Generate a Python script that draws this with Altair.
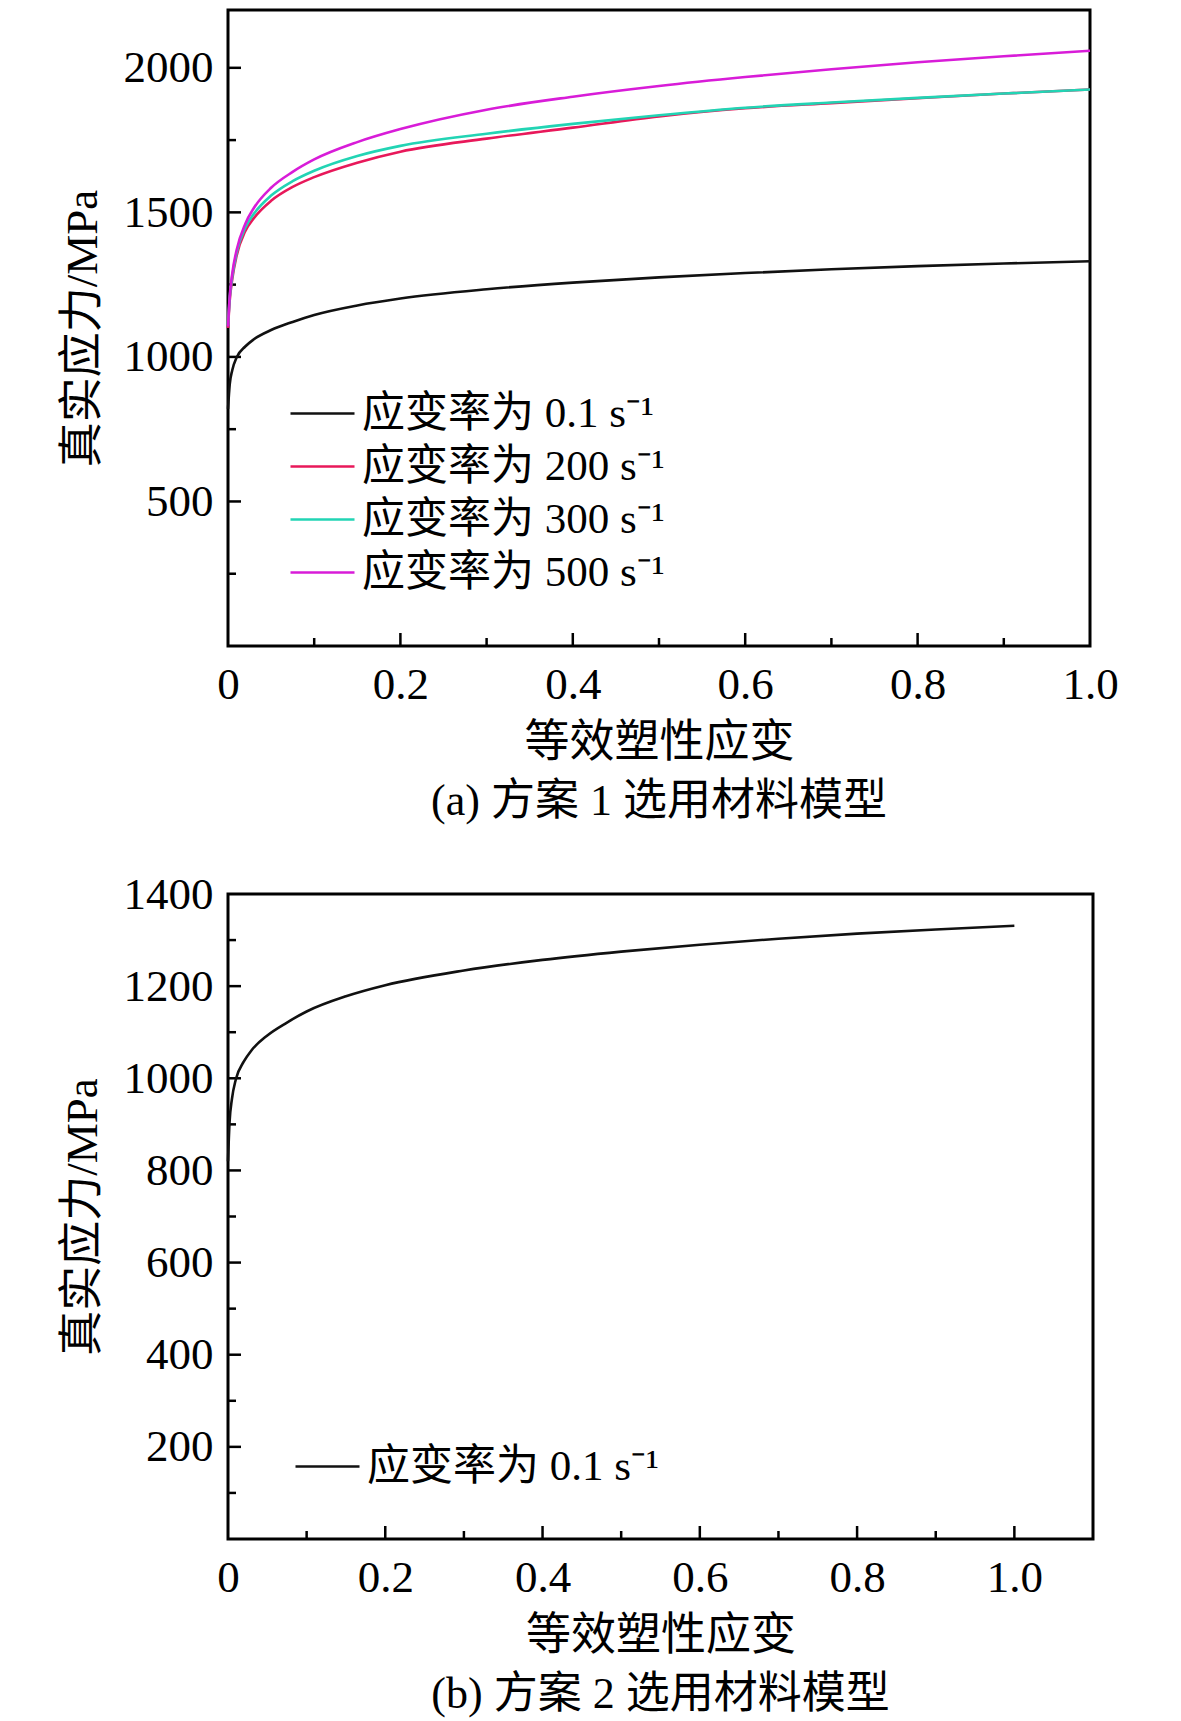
import altair as alt
import pandas as pd

# ---------------- data ----------------
strain = [0, 0.002, 0.005, 0.01, 0.02, 0.03, 0.05, 0.075, 0.1, 0.15, 0.2,
          0.3, 0.4, 0.5, 0.6, 0.7, 0.8, 0.9, 1.0]
stress_01 = [820, 905, 955, 998, 1036, 1061, 1093, 1121, 1145, 1178, 1202,
             1234, 1257, 1275, 1290, 1303, 1314, 1323, 1331]
stress_200 = [1100, 1195, 1270, 1350, 1435, 1480, 1540, 1588, 1622, 1672, 1710,
              1755, 1793, 1832, 1860, 1878, 1895, 1911, 1925]
stress_300 = [1110, 1205, 1280, 1360, 1447, 1495, 1558, 1608, 1644, 1695, 1730,
              1772, 1806, 1836, 1862, 1880, 1896, 1911, 1925]
stress_500 = [1105, 1210, 1290, 1370, 1460, 1515, 1585, 1640, 1683, 1743, 1788,
              1855, 1900, 1937, 1968, 1995, 2019, 2040, 2059]

series_names = ["应变率为 0.1 s⁻¹", "应变率为 200 s⁻¹", "应变率为 300 s⁻¹", "应变率为 500 s⁻¹"]
series_colors = ["#111111", "#e8185a", "#22d4b4", "#d81cd8"]

# axis ticks / labels
a_x_labels = [0, 0.2, 0.4, 0.6, 0.8, 1.0]
a_x_major = [0.2, 0.4, 0.6, 0.8]
a_x_minor = [0.1, 0.3, 0.5, 0.7, 0.9]
a_y_labels = [500, 1000, 1500, 2000]
a_y_major = [500, 1000, 1500, 2000]
a_y_minor = [250, 750, 1250, 1750]

b_x_labels = [0, 0.2, 0.4, 0.6, 0.8, 1.0]
b_x_major = [0.2, 0.4, 0.6, 0.8, 1.0]
b_x_minor = [0.1, 0.3, 0.5, 0.7, 0.9]
b_y_labels = [200, 400, 600, 800, 1000, 1200, 1400]
b_y_major = [200, 400, 600, 800, 1000, 1200]
b_y_minor = [100, 300, 500, 700, 900, 1100, 1300]

FONT = "Liberation Serif, Times New Roman, Noto Sans CJK SC, serif"
X_TITLE = "等效塑性应变"
Y_TITLE = "真实应力/MPa"


def panel(series_list, names, colors, xdom, ydom, xlab, ylab, xmaj, xmin, ymaj, ymin,
          w, h, caption, leg_x, leg_y):
    rows = []
    for vals, nm in zip(series_list, names):
        for s, v in zip(strain, vals):
            rows.append({"strain": s, "stress": v, "series": nm})
    df = pd.DataFrame(rows)

    xs = alt.Scale(domain=xdom, nice=False, zero=False)
    ys = alt.Scale(domain=ydom, nice=False, zero=False)

    lines = alt.Chart(df).mark_line(strokeWidth=2.6, interpolate="monotone").encode(
        x=alt.X("strain:Q", scale=xs, title=X_TITLE,
                axis=alt.Axis(values=xlab, ticks=False, tickSize=0, domain=False, grid=False,
                              labelExpr="datum.value == 0 ? '0' : format(datum.value, '.1f')",
                              labelPadding=16, titlePadding=13, labelFlush=False)),
        y=alt.Y("stress:Q", scale=ys, title=Y_TITLE,
                axis=alt.Axis(values=ylab, ticks=False, tickSize=0, domain=False, grid=False,
                              labelPadding=15, titlePadding=18, format="d")),
        color=alt.Color("series:N",
                        scale=alt.Scale(domain=names, range=colors),
                        legend=alt.Legend(orient="none", legendX=leg_x, legendY=leg_y,
                                          title=None, symbolType="stroke",
                                          symbolSize=4096, symbolStrokeWidth=2.6,
                                          labelFontSize=43, labelFont=FONT,
                                          labelColor="black", labelOffset=6,
                                          clipHeight=53, rowPadding=0, padding=0,
                                          labelLimit=600)),
        order=alt.value(0),
    )

    def xticks(vals, length):
        d = pd.DataFrame({"strain": vals})
        return alt.Chart(d).mark_rule(color="black", strokeWidth=2.5).encode(
            x=alt.X("strain:Q", scale=xs),
            y=alt.value(h), y2=alt.value(h - length))

    def yticks(vals, length):
        d = pd.DataFrame({"stress": vals})
        return alt.Chart(d).mark_rule(color="black", strokeWidth=2.5).encode(
            y=alt.Y("stress:Q", scale=ys),
            x=alt.value(0), x2=alt.value(length))

    return alt.layer(
        xticks(xmaj, 13), xticks(xmin, 8), yticks(ymaj, 13), yticks(ymin, 8), lines
    ).properties(
        width=w, height=h,
        title=alt.TitleParams(caption, orient="bottom", fontSize=44, font=FONT,
                              fontWeight="normal", color="black", offset=15, anchor="middle"),
    )


top = panel([stress_01, stress_200, stress_300, stress_500], series_names, series_colors,
            [0, 1.0], [0, 2200], a_x_labels, a_y_labels, a_x_major, a_x_minor,
            a_y_major, a_y_minor, 862, 636, "(a) 方案 1 选用材料模型", 61, 377)

bottom = panel([stress_01], series_names[:1], series_colors[:1],
               [0, 1.1], [0, 1400], b_x_labels, b_y_labels, b_x_major, b_x_minor,
               b_y_major, b_y_minor, 865, 645, "(b) 方案 2 选用材料模型", 66, 546)

chart = alt.vconcat(top, bottom, spacing=44).resolve_scale(
    x="independent", y="independent", color="independent"
).resolve_legend(color="independent").configure(
    padding={"left": 50, "top": 0, "right": 5, "bottom": 0},
    background="white",
).configure_view(
    stroke="black", strokeWidth=3, fill="white"
).configure_axis(
    labelFont=FONT, titleFont=FONT, labelFontSize=45, titleFontSize=45,
    labelColor="black", titleColor="black", titleFontWeight="normal",
)

chart.save("out.html", embed_options={"renderer": "svg", "actions": False})
